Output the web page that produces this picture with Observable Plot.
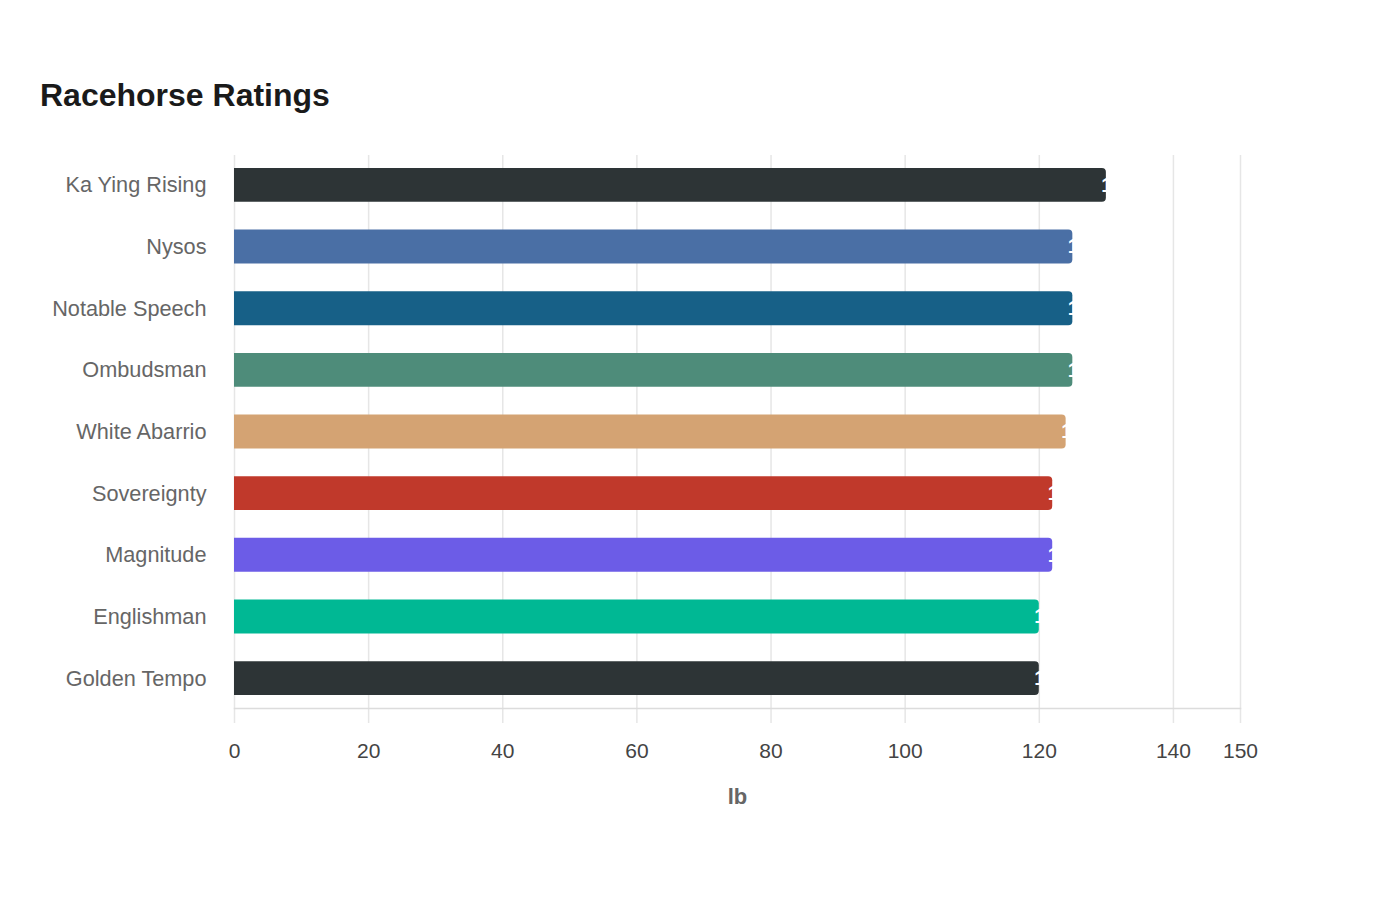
<!DOCTYPE html>
<html>
<head>
<meta charset="utf-8">
<script src="https://cdn.jsdelivr.net/npm/d3@7"></script>
<script src="https://cdn.jsdelivr.net/npm/@observablehq/plot@0.6"></script>
<style>
  html, body { margin: 0; padding: 0; background: #fff; }
  body { width: 1400px; height: 900px; overflow: hidden; font-family: "Liberation Sans", Arial, sans-serif; }
  #title { margin: 77px 0 0 40px; height: 36px; line-height: 36px; font-size: 32px; font-weight: bold; color: #1a1a1a; }
  #chart { margin-top: 17px; }
  #chart svg [aria-label="x-axis label"] text { font-weight: bold; fill: #666; font-size: 22px; }
</style>
</head>
<body>
<div id="title">Racehorse Ratings</div>
<div id="chart"></div>
<script>
const horses = ["Ka Ying Rising", "Nysos", "Notable Speech", "Ombudsman", "White Abarrio", "Sovereignty", "Magnitude", "Englishman", "Golden Tempo"];
const ratings = [130, 125, 125, 125, 124, 122, 122, 120, 120];
const colors = ["#2d3436", "#4a6fa5", "#176087", "#4e8c7a", "#d4a373", "#c0392b", "#6c5ce7", "#00b894", "#2d3436"];
const xTicks = [0, 20, 40, 60, 80, 100, 120, 140, 150];

const data = horses.map((h, i) => ({horse: h, rating: ratings[i], color: colors[i]}));

const v = (Plot.version || "0.6.0").split(".").map(Number);
const rightRound = v[0] > 0 || v[1] > 6 || (v[1] === 6 && v[2] >= 12);
const corner = rightRound ? {rx2: 4} : {rx: 4};

const chart = Plot.plot({
  width: 1400,
  height: 720,
  marginTop: 25,
  marginBottom: 142,
  marginLeft: 234,
  marginRight: 160,
  style: {fontFamily: "Liberation Sans, Arial, sans-serif", background: "#fff"},
  x: {domain: [0, 150]},
  y: {domain: horses, paddingInner: 0.45, paddingOuter: 0.21, round: false},
  marks: [
    Plot.gridX(xTicks, {stroke: "#e6e6e6", strokeOpacity: 1, strokeWidth: 1.5}),
    Plot.axisX({ticks: xTicks, tickSize: 15, stroke: "#e6e6e6", strokeWidth: 1.5, strokeOpacity: 1, tickPadding: 20, fontSize: 21, fill: "#444",
      label: "lb", labelAnchor: "center", labelArrow: "none", labelOffset: 95}),
    Plot.frame({anchor: "bottom", stroke: "#dcdcdc", strokeWidth: 1.5}),
    Plot.axisY({tickSize: 0, tickPadding: 28, fontSize: 21.7, fill: "#666", label: null}),
    Plot.barX(data, {x: "rating", y: "horse", fill: "color", ...corner}),
    Plot.text(data, {x: "rating", y: "horse", text: d => String(d.rating), fill: "#fff", textAnchor: "start", dx: -5, fontSize: 20, fontWeight: "bold"})
  ]
});
document.getElementById("chart").append(chart);
</script>
</body>
</html>
